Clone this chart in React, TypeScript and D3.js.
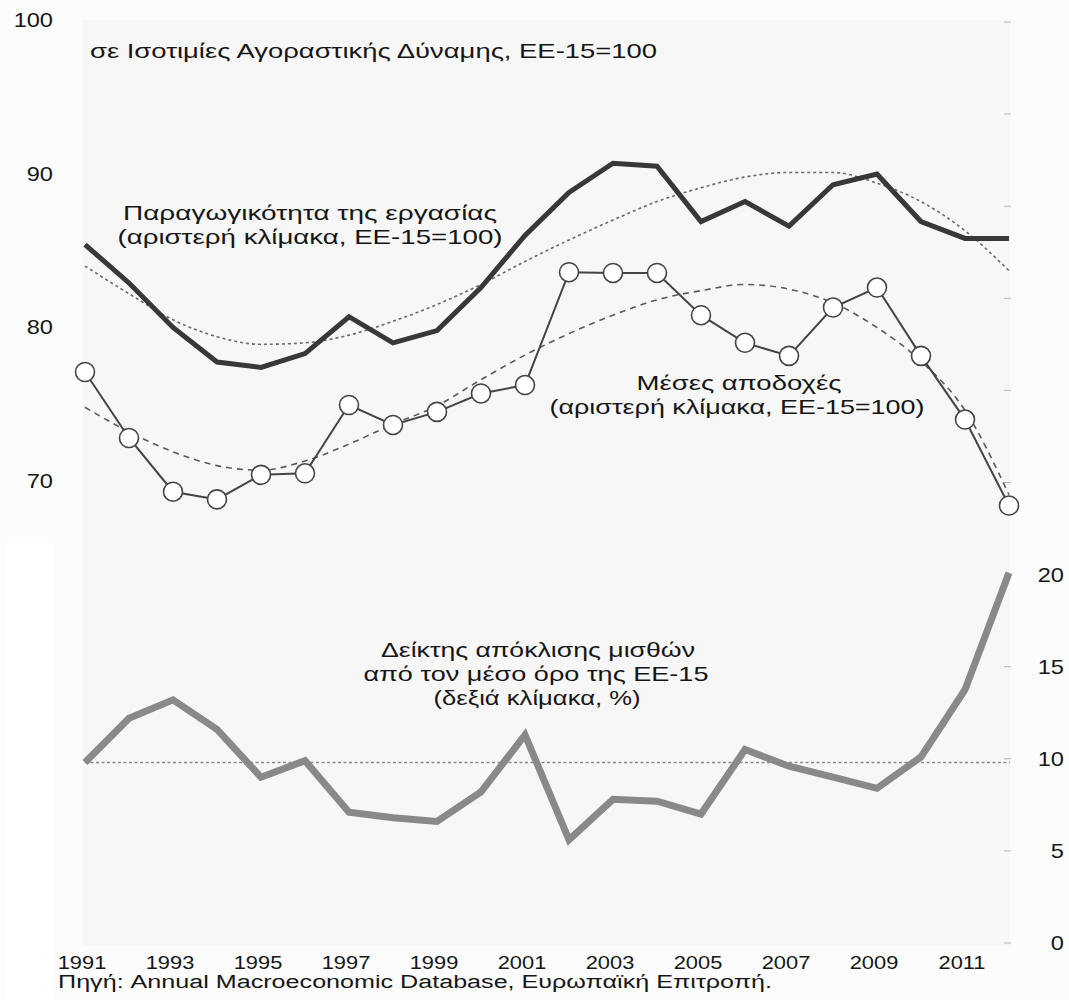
import React from "react";
import * as d3 from "d3";

const years = [1991,1992,1993,1994,1995,1996,1997,1998,1999,2000,2001,2002,2003,2004,2005,2006,2007,2008,2009,2010,2011,2012];
const productivity = [85.5,83.0,80.1,77.85,77.5,78.4,80.8,79.1,79.9,82.7,86.1,88.9,90.8,90.6,87.0,88.3,86.7,89.4,90.1,87.0,85.9,85.9];
const productivityTrend = [84.1,82.3,80.6,79.5,79.0,79.1,79.6,80.5,81.6,82.9,84.4,85.8,87.1,88.3,89.2,89.9,90.2,90.2,89.5,88.3,86.4,83.8];
const wages = [77.2,72.9,69.4,68.9,70.5,70.6,75.05,73.75,74.6,75.8,76.35,83.7,83.65,83.65,80.9,79.1,78.25,81.4,82.7,78.25,74.1,68.5];
const wagesTrend = [74.9,73.3,72.0,71.1,70.8,71.4,72.5,73.8,75.0,76.7,78.3,79.7,80.9,81.9,82.5,82.9,82.6,81.7,80.1,77.9,74.7,69.2];
const wageGap = [9.8,12.2,13.2,11.6,9.0,9.9,7.1,6.8,6.6,8.2,11.3,5.6,7.8,7.7,7.0,10.5,9.6,9.0,8.4,10.1,13.75,20.1];
const wageGapReference = 9.8;
const leftTicks = [100,90,80,70];
const rightTicks = [0,5,10,15,20];
const rightMinorTicks = [0,5,10,15,20,25,30,35,40,45,50];
const yearLabels = [1991,1993,1995,1997,1999,2001,2003,2005,2007,2009,2011];

const titleText = "σε Ισοτιμίες Αγοραστικής Δύναμης, ΕΕ-15=100";
const prodLabel = ["Παραγωγικότητα της εργασίας", "(αριστερή κλίμακα, ΕΕ-15=100)"];
const wageLabel = ["Μέσες αποδοχές", "(αριστερή κλίμακα, ΕΕ-15=100)"];
const gapLabel = ["Δείκτης απόκλισης μισθών", "από τον μέσο όρο της ΕΕ-15", "(δεξιά κλίμακα, %)"];
const sourceText = "Πηγή: Annual Macroeconomic Database, Ευρωπαϊκή Επιτροπή.";

const FONT = "'Liberation Sans', Arial, Helvetica, sans-serif";
const TXT = "#161616";

export default function App() {
  const W = 1069, H = 1000;
  const x = d3.scaleLinear().domain([1991, 2012]).range([85, 1009]);
  const yL = d3.scaleLinear().domain([40, 100]).range([943, 22]);
  const yR = d3.scaleLinear().domain([0, 50]).range([943, 22]);

  const lineL = (vals: number[]) =>
    d3.line<number>().x((_, i) => x(years[i])).y((v) => yL(v))(vals) || "";
  const lineLCurve = (vals: number[]) =>
    d3.line<number>().x((_, i) => x(years[i])).y((v) => yL(v)).curve(d3.curveMonotoneX)(vals) || "";
  const lineR = (vals: number[]) =>
    d3.line<number>().x((_, i) => x(years[i])).y((v) => yR(v))(vals) || "";

  const sx = 1.18;

  return (
    <div style={{ position: "absolute", left: 0, top: 0 }}>
      <svg width={W} height={H} style={{ display: "block" }} fontFamily={FONT}>
        <rect x={0} y={0} width={W} height={H} fill="#fcfcfc" />
        <rect x={83} y={20} width={1010 - 83} height={946 - 20} fill="#f7f7f7" />
        <rect x={7} y={543} width={46} height={H - 543} fill="#ffffff" />

        {/* right ticks */}
        {rightMinorTicks.map((t) => (
          <line key={"rt" + t} x1={1004} x2={1011} y1={yR(t)} y2={yR(t)} stroke="#b8b8b8" strokeWidth={1} />
        ))}

        {/* reference line */}
        <line x1={x(1991)} x2={1010} y1={yR(wageGapReference)} y2={yR(wageGapReference)}
          stroke="#8a8a8a" strokeWidth={1.6} strokeDasharray="3,2.5" />

        {/* wage gap line */}
        <path d={lineR(wageGap)} fill="none" stroke="#898989" strokeWidth={7} strokeLinejoin="miter" />

        {/* trends */}
        <path d={lineLCurve(productivityTrend)} fill="none" stroke="#6a6a6a" strokeWidth={1.6} strokeDasharray="3,3" />
        <path d={lineLCurve(wagesTrend)} fill="none" stroke="#5a5a5a" strokeWidth={1.6} strokeDasharray="6,5" />

        {/* productivity */}
        <path d={lineL(productivity)} fill="none" stroke="#383838" strokeWidth={5} strokeLinejoin="miter" />

        {/* wages */}
        <path d={lineL(wages)} fill="none" stroke="#444" strokeWidth={2} />
        {wages.map((v, i) => (
          <circle key={"c" + i} cx={x(years[i])} cy={yL(v)} r={9.5} fill="#fff" stroke="#444" strokeWidth={1.6} />
        ))}

        {/* left axis labels */}
        {leftTicks.map((t) => (
          <text key={"l" + t} transform={`translate(53,${yL(t) + 5}) scale(${sx},1)`} textAnchor="end"
            fontSize={20} fill={TXT}>{t}</text>
        ))}
        {/* right axis labels */}
        {rightTicks.map((t) => (
          <text key={"r" + t} transform={`translate(1064,${yR(t) + 7}) scale(${sx},1)`} textAnchor="end"
            fontSize={20} fill={TXT}>{t}</text>
        ))}
        {/* year labels */}
        {yearLabels.map((yv) => (
          <text key={"y" + yv} transform={`translate(${x(yv) - 3},969) scale(${sx},1)`} textAnchor="middle"
            fontSize={18.5} fill={TXT}>{yv}</text>
        ))}

        {/* annotations */}
        <text x={90} y={58} fontSize={21} fill={TXT} textLength={567} lengthAdjust="spacingAndGlyphs">{titleText}</text>
        <text x={310} y={220} fontSize={21} fill={TXT} textAnchor="middle" textLength={374} lengthAdjust="spacingAndGlyphs">{prodLabel[0]}</text>
        <text x={310} y={244} fontSize={21} fill={TXT} textAnchor="middle" textLength={385} lengthAdjust="spacingAndGlyphs">{prodLabel[1]}</text>
        <text x={739} y={390} fontSize={21} fill={TXT} textAnchor="middle" textLength={205} lengthAdjust="spacingAndGlyphs">{wageLabel[0]}</text>
        <text x={737} y={414} fontSize={21} fill={TXT} textAnchor="middle" textLength={375} lengthAdjust="spacingAndGlyphs">{wageLabel[1]}</text>
        <text x={538} y={657} fontSize={21} fill={TXT} textAnchor="middle" textLength={314} lengthAdjust="spacingAndGlyphs">{gapLabel[0]}</text>
        <text x={536} y={681} fontSize={21} fill={TXT} textAnchor="middle" textLength={345} lengthAdjust="spacingAndGlyphs">{gapLabel[1]}</text>
        <text x={537} y={705} fontSize={21} fill={TXT} textAnchor="middle" textLength={207} lengthAdjust="spacingAndGlyphs">{gapLabel[2]}</text>

        <text x={58} y={988} fontSize={18} fill={TXT} textLength={714} lengthAdjust="spacingAndGlyphs">{sourceText}</text>
      </svg>
    </div>
  );
}
